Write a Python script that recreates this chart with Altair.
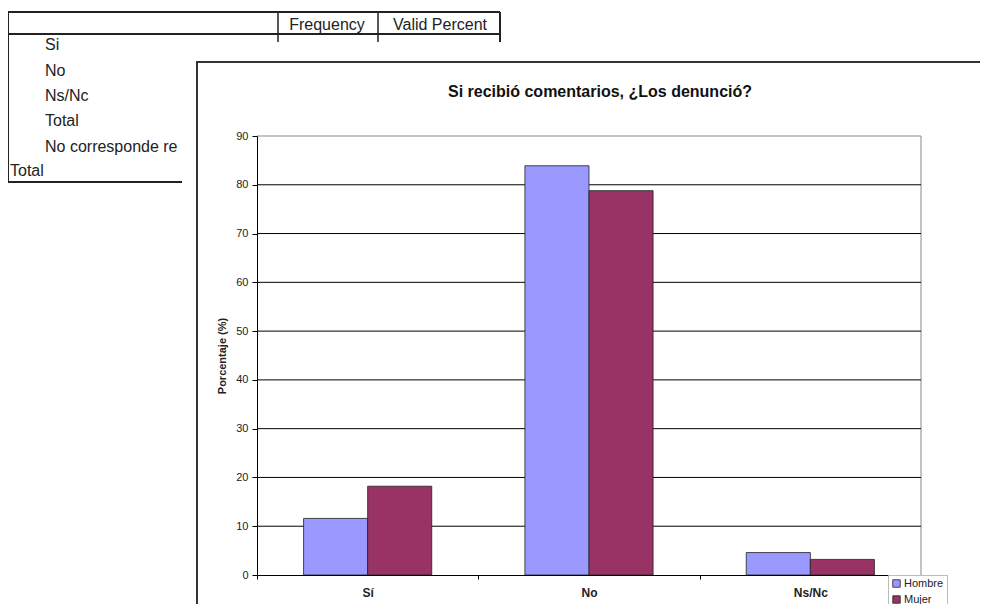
import altair as alt
import pandas as pd

# ---- data ----
categories = ["Sí", "No", "Ns/Nc"]
groups = ["Hombre", "Mujer"]
hombre = [11.6, 83.9, 4.6]
mujer = [18.2, 78.8, 3.2]
grid_values = [10, 20, 30, 40, 50, 60, 70, 80]
y_ticks = [0, 10, 20, 30, 40, 50, 60, 70, 80, 90]
title_text = "Si recibió comentarios, ¿Los denunció?"
y_title = "Porcentaje (%)"
table_header = ["Frequency", "Valid Percent"]
table_rows = ["Si", "No", "Ns/Nc", "Total", "No corresponde re"]
table_last = "Total"

colors = ["#9999FF", "#993366"]
FONT = "Liberation Sans"

rows = []
for i, c in enumerate(categories):
    rows.append({"cat": c, "sexo": groups[0], "val": hombre[i]})
    rows.append({"cat": c, "sexo": groups[1], "val": mujer[i]})
df = pd.DataFrame(rows)
grid_df = pd.DataFrame({"val": grid_values})
one = pd.DataFrame({"k": [0]})

W, H = 664, 439
OX, OY = 257, 136  # page position of plot origin


def px(x):
    return x - OX


def py(y):
    return y - OY


def hline(x1, x2, y, color="#222", w=2):
    return alt.Chart(one).mark_rule(color=color, strokeWidth=w).encode(
        x=alt.value(px(x1)), x2=alt.value(px(x2)), y=alt.value(py(y)))


def vline(x, y1, y2, color="#222", w=2):
    return alt.Chart(one).mark_rule(color=color, strokeWidth=w).encode(
        x=alt.value(px(x)), y=alt.value(py(y1)), y2=alt.value(py(y2)))


def label(text, x, y, size=16, align="left", weight="normal", color="#222"):
    return alt.Chart(one).mark_text(
        font=FONT, fontSize=size, align=align, baseline="middle",
        fontWeight=weight, color=color).encode(
        x=alt.value(px(x)), y=alt.value(py(y)), text=alt.value(text))


layers = []
# ---- background table fragment ----
layers += [
    hline(8, 500, 12), hline(8, 500, 34), vline(8, 12, 183), hline(8, 182, 182),
    vline(278, 12, 44, w=1.5), vline(378, 12, 44, w=1.5), vline(500, 12, 44),
    label(table_header[0], 327, 25), label(table_header[1], 440, 25),
]
layers[-2] = label(table_header[0], 327, 25, align="center")
layers[-1] = label(table_header[1], 440, 25, align="center")
row_y = [45, 71, 96, 121, 147]
for t, yy in zip(table_rows, row_y):
    layers.append(label(t, 45, yy))
layers.append(label(table_last, 10, 171))

# ---- white chart window covering the table ----
layers.append(alt.Chart(one).mark_rect(color="white").encode(
    x=alt.value(px(182)), x2=alt.value(px(988)),
    y=alt.value(py(42)), y2=alt.value(py(612))))
layers.append(hline(196, 988, 62, color="#333", w=2))
layers.append(vline(197, 62, 612, color="#333", w=2))

# ---- title ----
layers.append(label(title_text, 600, 92, size=16, align="center", weight="bold", color="#111"))

# ---- plot border (top, right) ----
layers.append(alt.Chart(one).mark_rule(color="#888", strokeWidth=1).encode(
    x=alt.value(0), x2=alt.value(W), y=alt.value(0)))
layers.append(alt.Chart(one).mark_rule(color="#888", strokeWidth=1).encode(
    x=alt.value(W), y=alt.value(0), y2=alt.value(H)))

# ---- gridlines ----
layers.append(alt.Chart(grid_df).mark_rule(color="black", strokeWidth=1).encode(
    y=alt.Y("val:Q", scale=alt.Scale(domain=[0, 90], nice=False, zero=True))))

# ---- bars ----
bars = alt.Chart(df).mark_bar(stroke="#222", strokeWidth=1, strokeOpacity=0.8).encode(
    x=alt.X("cat:N", sort=categories,
            scale=alt.Scale(paddingInner=0, paddingOuter=0),
            axis=alt.Axis(title=None, labelAngle=0, labelFont=FONT, labelFontSize=12,
                          labelFontWeight="bold", labelColor="#222", tickBand="extent",
                          tickSize=4, tickColor="black", domainColor="black",
                          labelPadding=8, zindex=1)),
    xOffset=alt.XOffset("sexo:N", sort=groups,
                        scale=alt.Scale(paddingInner=0, paddingOuter=0.727)),
    y=alt.Y("val:Q", scale=alt.Scale(domain=[0, 90], nice=False, zero=True),
            axis=alt.Axis(values=y_ticks, grid=False, title=y_title, labelFont=FONT,
                          labelFontSize=11, labelColor="#222", tickSize=5,
                          tickColor="black", domainColor="black", labelPadding=4,
                          titleFont=FONT, titleFontSize=11, titleFontWeight="bold",
                          titleColor="#222", titleAngle=270, titleX=-35, titleY=H / 2,
                          titleAlign="center", titleBaseline="middle", zindex=1)),
    color=alt.Color("sexo:N", sort=groups,
                    scale=alt.Scale(domain=groups, range=colors),
                    legend=alt.Legend(title=None, orient="none", legendX=631, legendY=439,
                                      direction="vertical", symbolType="square",
                                      symbolSize=56, symbolStrokeColor="#222",
                                      symbolStrokeWidth=0.8, labelFont=FONT,
                                      labelFontSize=11, labelColor="#222", labelOffset=2,
                                      padding=3, rowPadding=4, strokeColor="#bbb",
                                      fillColor="white", zindex=1)),
)
layers.append(bars)

chart = alt.layer(*layers).properties(
    width=W, height=H,
    autosize=alt.AutoSizeParams(type="none"),
    padding={"left": 249, "top": 128, "right": 59, "bottom": 29},
).configure_view(stroke=None)

chart.save("out.html", embed_options={"renderer": "svg", "actions": False})
